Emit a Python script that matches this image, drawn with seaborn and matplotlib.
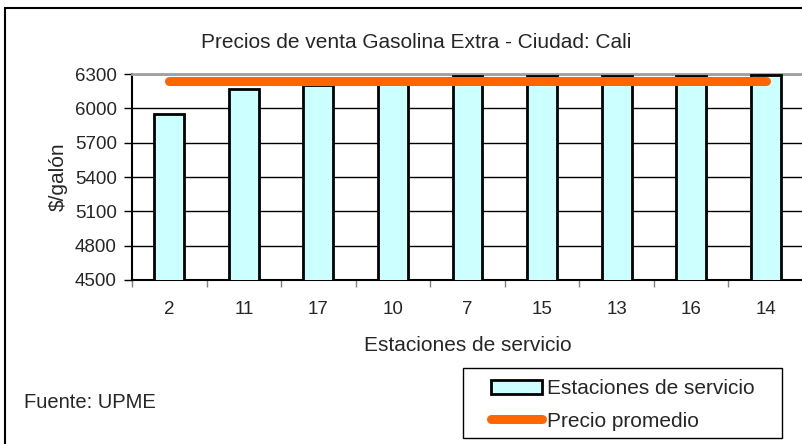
import numpy as np
import pandas as pd
import matplotlib
matplotlib.use('Agg')
import matplotlib.pyplot as plt
import matplotlib.patches as mpatches
import matplotlib.lines as mlines
import seaborn as sns

# ── Data ───────────────────────────────────────────────────────────────────────
estaciones = ['2', '11', '17', '10', '7', '15', '13', '16', '14']
precios = [5950, 6165, 6200, 6218, 6280, 6280, 6280, 6280, 6295]
promedio = [6240] * len(estaciones)
y_ticks = [4500, 4800, 5100, 5400, 5700, 6000, 6300]

titulo = 'Precios de venta Gasolina Extra - Ciudad: Cali'
fuente = 'Fuente: UPME'

df = pd.DataFrame({'estacion': estaciones, 'precio': precios})

# ── Style ──────────────────────────────────────────────────────────────────────
sns.set_style('white')
plt.rcParams['font.family'] = ['Liberation Sans', 'DejaVu Sans']

W, H = 803, 444
fig = plt.figure(figsize=(W / 100, H / 100), dpi=100)
ax = fig.add_axes([132 / W, 164 / H, 671 / W, 206 / H])

sns.barplot(data=df, x='estacion', y='precio', order=estaciones,
            color='#CCFFFF', width=0.4, edgecolor='black', linewidth=2,
            saturation=1, ax=ax, zorder=3)

ax.plot(range(len(estaciones)), promedio, color='#FF6600', lw=6.5,
        solid_capstyle='round', zorder=4)

ax.set_xlim(-0.5, len(estaciones) - 0.5)
ax.set_ylim(4500, 6300)
ax.set_yticks(y_ticks)
ax.yaxis.grid(True, color='black', lw=1, zorder=0)
ax.set_axisbelow(True)

ax.tick_params(axis='y', labelsize=13.5, length=6, width=1, color='black',
               direction='out', pad=5, left=True)
ax.tick_params(axis='x', which='major', labelsize=13.5, length=0, pad=15)
ax.set_xticks(np.arange(-0.5, len(estaciones)), minor=True)
ax.tick_params(axis='x', which='minor', length=5, width=1, color='#808080',
               direction='out', bottom=True)

for side in ['left', 'bottom']:
    ax.spines[side].set_color('black')
    ax.spines[side].set_linewidth(1.5)
ax.spines['top'].set_color('#A0A0A0')
ax.spines['top'].set_linewidth(2)
ax.spines['right'].set_visible(False)

ax.set_xlabel('Estaciones de servicio', fontsize=15, labelpad=13)
ax.set_ylabel('$/galón', fontsize=15, labelpad=5)

fig.text(416 / W, 1 - 42 / H, titulo, fontsize=15, ha='center', va='center')
fig.text(24 / W, 1 - 402 / H, fuente, fontsize=14.5, ha='left', va='center')

# outer chart frame
fig.patches.append(mpatches.Rectangle((5 / W, -0.1), 1.2, 1.1 - 8 / H,
                                      transform=fig.transFigure, fill=False,
                                      edgecolor='black', lw=1.5))

# legend box + entries
fig.patches.append(mpatches.Rectangle((463 / W, 1 - 438 / H), 319 / W, 70 / H,
                                      transform=fig.transFigure, fill=False,
                                      edgecolor='black', lw=1))
h_bar = mpatches.Patch(facecolor='#CCFFFF', edgecolor='black', lw=2)
h_line = mlines.Line2D([], [], color='#FF6600', lw=6.5, solid_capstyle='round')
fig.legend([h_bar, h_line], ['Estaciones de servicio', 'Precio promedio'],
           loc='center left', bbox_to_anchor=(491 / W, 1 - 405 / H),
           bbox_transform=fig.transFigure, frameon=False, fontsize=15,
           handlelength=2.45, handletextpad=0.25, labelspacing=0.65,
           borderpad=0, borderaxespad=0)

fig.savefig('out.png', dpi=100)
